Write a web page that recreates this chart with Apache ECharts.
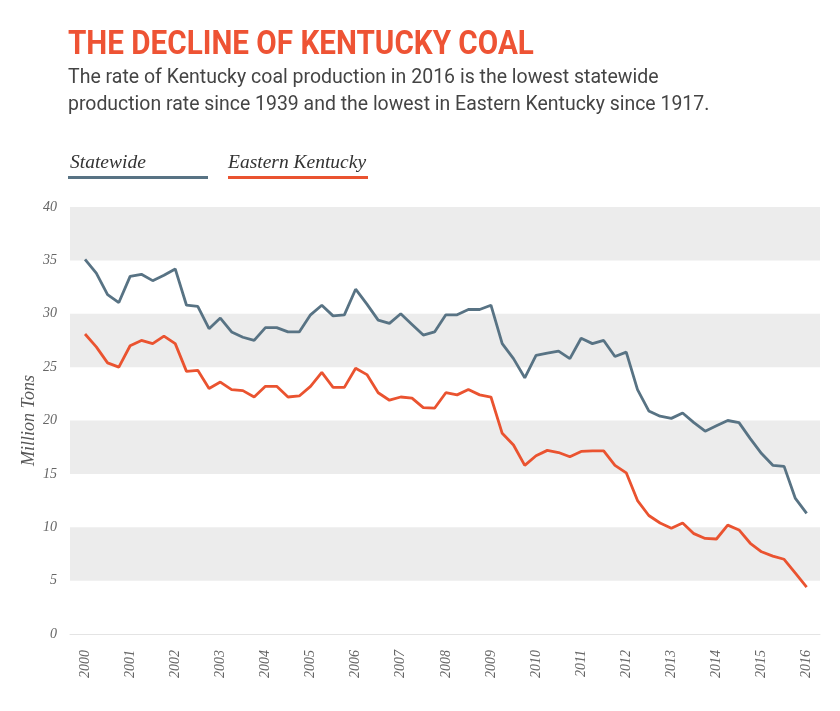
<!DOCTYPE html>
<html>
<head>
<meta charset="utf-8">
<script src="https://cdn.jsdelivr.net/npm/echarts@6/dist/echarts.min.js"></script>
<style>
html,body{margin:0;padding:0;background:#fff;}
#chart{width:840px;height:711px;}
</style>
</head>
<body>
<div id="chart"></div>
<script>
// Quarterly, 2000 Q1 .. 2016 Q1
var startYear = 2000;
var yearLabels = [2000,2001,2002,2003,2004,2005,2006,2007,2008,2009,2010,2011,2012,2013,2014,2015,2016];
var statewide = [
  35.1,33.8,31.8,31.05,33.5,33.7,33.1,33.6,34.2,30.8,30.7,28.6,29.6,28.3,27.8,27.5,
  28.7,28.7,28.3,28.3,29.9,30.8,29.8,29.9,32.3,30.9,29.4,29.1,30.0,29.0,28.0,28.3,
  29.9,29.9,30.4,30.4,30.8,27.2,25.8,24.0,26.1,26.3,26.5,25.8,27.7,27.2,27.5,26.0,
  26.4,22.9,20.9,20.4,20.2,20.7,19.8,19.0,19.5,20.0,19.8,18.3,16.9,15.8,15.7,12.7,
  11.3
];
var easternKentucky = [
  28.1,26.9,25.4,25.0,27.0,27.5,27.2,27.9,27.2,24.6,24.7,23.0,23.6,22.9,22.8,22.2,
  23.2,23.2,22.2,22.3,23.2,24.5,23.1,23.1,24.9,24.3,22.6,21.9,22.2,22.1,21.2,21.15,
  22.6,22.4,22.9,22.4,22.2,18.8,17.7,15.8,16.7,17.2,17.0,16.6,17.1,17.15,17.15,15.8,
  15.1,12.5,11.1,10.4,9.9,10.4,9.4,8.95,8.9,10.2,9.75,8.5,7.7,7.3,7.0,5.7,
  4.4
];
var yTicks = [0,5,10,15,20,25,30,35,40];

function toPairs(arr){
  return arr.map(function(v,i){ return [startYear + i/4, v]; });
}

var slate = '#587384';
var orange = '#ea5330';

var chart = echarts.init(document.getElementById('chart'), null, {renderer:'canvas'});
chart.setOption({
  backgroundColor:'#ffffff',
  animation:false,
  grid:{left:70,right:20,top:207,bottom:77},
  xAxis:{
    type:'value',
    min:1999.667,
    max:2016.296,
    splitLine:{show:false},
    axisTick:{show:false},
    axisLine:{show:true,lineStyle:{color:'#e4e4e4',width:1}},
    axisLabel:{
      customValues:yearLabels,
      rotate:90,
      margin:16,
      color:'#666',
      fontFamily:'Liberation Serif',
      fontStyle:'italic',
      fontSize:14,
      formatter:function(v){return String(Math.round(v));}
    }
  },
  yAxis:{
    type:'value',
    min:0,max:40,interval:5,
    name:'Million Tons',
    nameLocation:'middle',
    nameGap:32,
    nameMoveOverlap:false,
    nameTextStyle:{color:'#555',fontFamily:'Liberation Serif',fontStyle:'italic',fontSize:18},
    axisLine:{show:false},
    axisTick:{show:false},
    splitLine:{show:false},
    splitArea:{show:true,areaStyle:{color:['rgba(255,255,255,0)','#ececec']}},
    axisLabel:{
      customValues:yTicks,
      margin:13,
      color:'#666',
      fontFamily:'Liberation Serif',
      fontStyle:'italic',
      fontSize:14
    }
  },
  series:[
    {name:'Statewide',type:'line',data:toPairs(statewide),showSymbol:false,
     lineStyle:{color:slate,width:2.8},itemStyle:{color:slate}},
    {name:'Eastern Kentucky',type:'line',data:toPairs(easternKentucky),showSymbol:false,
     lineStyle:{color:orange,width:2.8},itemStyle:{color:orange}}
  ],
  graphic:[
    {type:'text',left:68,top:28,scaleX:0.872,
     style:{text:'THE DECLINE OF KENTUCKY COAL',fill:'#ee5334',font:'bold 34px Roboto'}},
    {type:'text',left:68,top:65,scaleX:0.975,
     style:{text:'The rate of Kentucky coal production in 2016 is the lowest statewide',fill:'#444',font:'20px Roboto',lineHeight:26}},
    {type:'text',left:68,top:92,scaleX:0.972,
     style:{text:'production rate since 1939 and the lowest in Eastern Kentucky since 1917.',fill:'#444',font:'20px Roboto',lineHeight:26}},
    {type:'text',left:70,top:153,
     style:{text:'Statewide',fill:'#333',font:'italic 19.5px "Liberation Serif"'}},
    {type:'rect',shape:{x:68,y:176,width:140,height:3},style:{fill:slate}},
    {type:'text',left:228,top:153,
     style:{text:'Eastern Kentucky',fill:'#333',font:'italic 19.5px "Liberation Serif"'}},
    {type:'rect',shape:{x:228,y:176,width:140,height:3},style:{fill:orange}}
  ]
});
</script>
</body>
</html>
